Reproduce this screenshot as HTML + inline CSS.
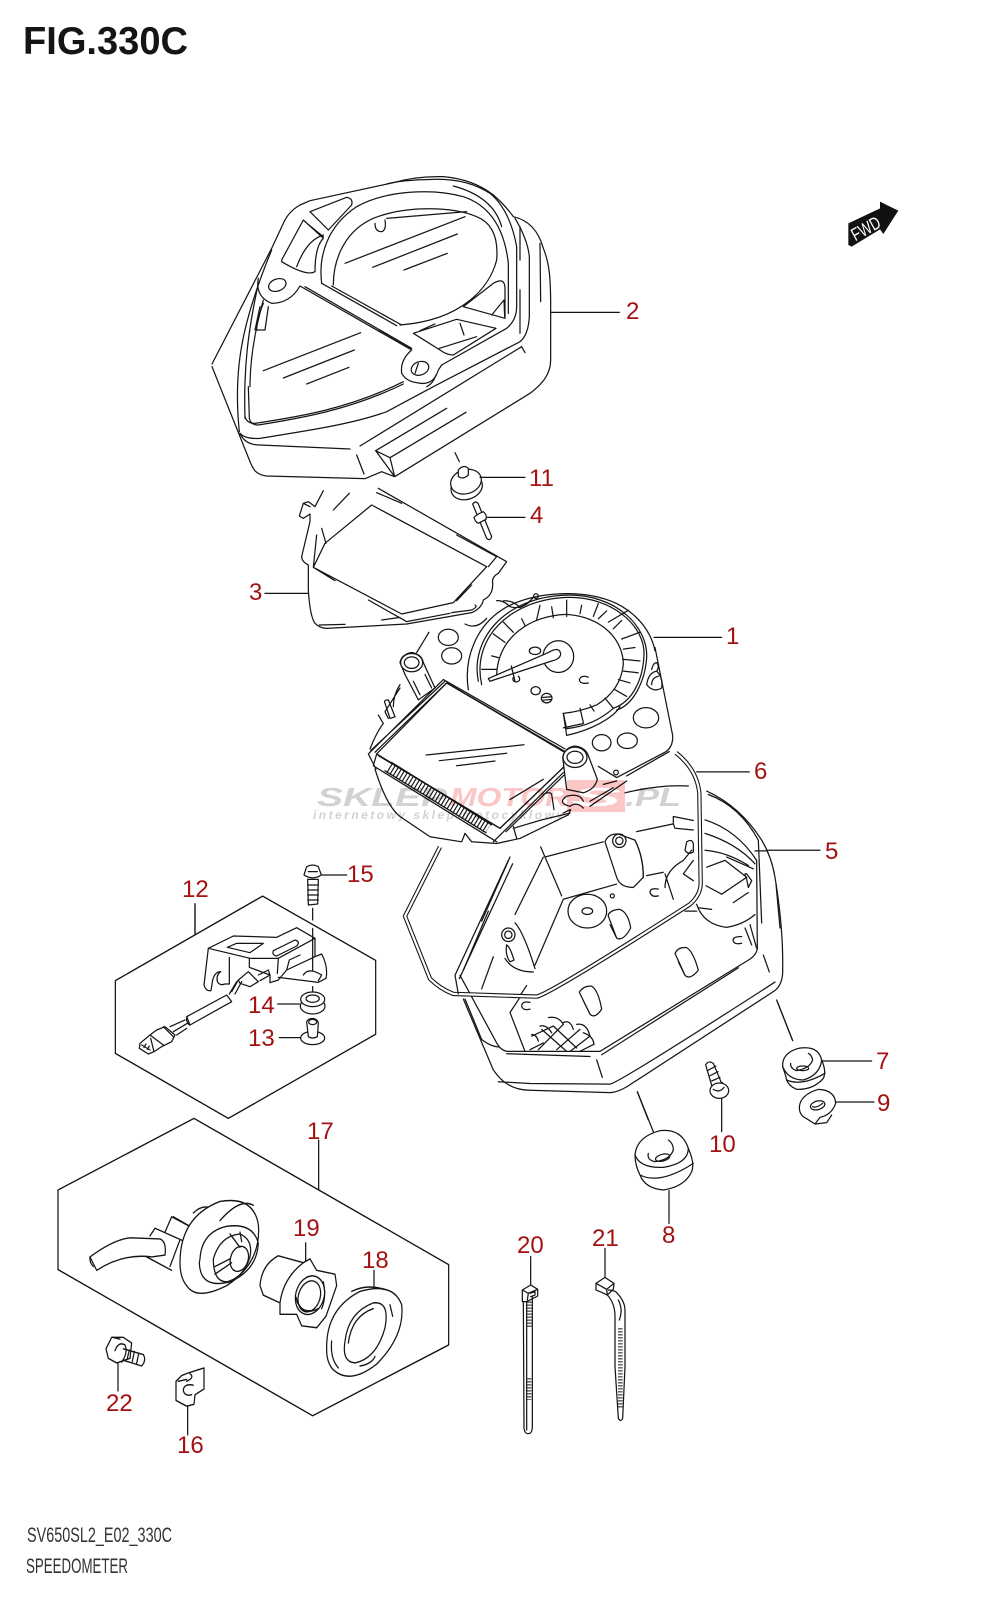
<!DOCTYPE html>
<html><head><meta charset="utf-8"><style>
html,body{margin:0;padding:0;background:#fff}
svg{display:block}
text{font-family:"Liberation Sans",sans-serif}
.n{fill:#a31212;font-size:24px}
.l{fill:none;stroke:#151515;stroke-width:3.7;stroke-linecap:round;stroke-linejoin:round}
.w{fill:#fff}
</style></head><body>
<svg width="1000" height="1600" viewBox="0 0 1000 1600" xmlns="http://www.w3.org/2000/svg">
<rect width="1000" height="1600" fill="#fff"/>
<text x="23" y="54" font-size="39" font-weight="700" fill="#151515" textLength="165" lengthAdjust="spacingAndGlyphs">FIG.330C</text>
<text x="27" y="1542" font-size="21" fill="#333" textLength="145" lengthAdjust="spacingAndGlyphs">SV650SL2_E02_330C</text>
<text x="26" y="1573" font-size="21" fill="#333" textLength="102" lengthAdjust="spacingAndGlyphs">SPEEDOMETER</text>

<!-- GROUP A: housing top, part 3, 11, 4 -->
<g transform="translate(200,160) scale(.33333)" class="l">
<path d="M36 612L215 265L250 190Q265 155 300 135L330 122L580 68Q650 48 730 50Q820 58 880 105Q915 135 940 170C985 180 1015 210 1030 265C1048 310 1052 350 1052 440L1052 600C1052 640 1030 670 990 700L584 950L527 872L570 893L584 950L545 935L495 956L200 948C170 945 160 930 150 905L36 620"/>
<path d="M527 872L740 745M570 893L798 757M480 858L965 560L975 578M470 885L492 942M120 820Q135 855 180 855L450 867"/>
<path d="M118 815C100 640 120 500 215 270M120 820Q135 838 180 835C300 815 450 795 560 755L700 680L960 545Q985 525 988 470L988 290C985 260 975 225 945 175"/>
<path d="M145 680L148 775Q152 795 175 795C300 775 450 750 610 672M135 775C130 620 145 510 175 370M150 680C150 600 165 510 190 420"/>
<path d="M135 770Q140 790 165 790C300 770 450 745 610 665"/>
<path d="M175 355Q165 410 215 430Q270 430 300 378L635 570Q600 600 605 640Q620 665 650 668Q700 680 715 630L725 615L920 505Q950 480 950 440L950 260Q930 150 870 100Q800 55 700 58Q600 60 560 72"/>
<path d="M538 510L632 565M315 380L635 565"/>
<ellipse cx="232" cy="375" rx="27" ry="18" transform="rotate(-20 232 375)"/>
<ellipse cx="660" cy="625" rx="27" ry="20" transform="rotate(-20 660 625)"/>
<path d="M645 640L655 610M680 680Q700 670 708 645"/>
<path d="M365 370C355 290 380 200 470 140C560 90 700 85 790 110C880 140 915 220 925 310L925 460"/>
<path d="M400 375C400 290 440 210 520 175C620 135 760 140 830 170C880 190 895 240 890 300C870 380 790 480 600 495"/>
<path d="M365 370L590 497M395 378L605 495M760 78Q880 110 905 200M960 200L960 300M1020 250L1022 425M960 390L960 520"/>
<path d="M525 190Q525 215 545 215Q560 210 555 180M560 175L800 155"/>
<path d="M330 155L440 112Q460 115 455 135L385 210ZM245 300L310 180L370 235Q345 260 345 335Q320 350 245 305ZM290 320Q320 240 370 225M315 185L370 230"/>
<path d="M790 440L880 370Q915 350 915 385L915 475ZM875 465L912 420L914 470"/>
<path d="M640 520L770 478L888 505L760 585Q740 585 720 570ZM780 490L792 525M718 565L830 530M660 512L705 492"/>
<path d="M190 430Q170 480 170 510L195 510L205 440M180 440L165 510"/>
<path d="M435 310L795 170M518 322L772 222M612 330L742 280M190 632L482 518M250 654L463 570M320 672L447 622"/>
<path d="M1052 457L1258 457M195 1300L325 1300"/>
<path d="M765 878L778 905"/>
<ellipse class="w" cx="800" cy="982" rx="48" ry="36" transform="rotate(-18 800 982)"/>
<ellipse class="w" cx="798" cy="965" rx="47" ry="36" transform="rotate(-18 798 965)"/>
<path class="w" d="M775 950L775 930Q790 912 805 925L805 945Q790 960 775 950Z"/>
<path d="M840 952L975 952"/>
<path class="w" d="M818 1032Q828 1020 835 1032L875 1130Q870 1145 860 1135Z"/>
<path class="w" d="M822 1072Q835 1060 850 1055Q862 1065 858 1078L835 1090Q825 1085 822 1072Z"/>
<path d="M860 1072L975 1072"/>
<path d="M370 992L345 1040L325 1025L310 1030L298 1068L310 1075L330 1062L330 1085L305 1190Q305 1205 325 1215L325 1290Q330 1370 345 1390Q360 1405 380 1405L620 1392L815 1358Q845 1345 850 1320Q880 1305 878 1270Q875 1250 895 1240L920 1205L535 985"/>
<path d="M515 1035L860 1220L760 1328L605 1362L340 1222L375 1150ZM350 1125L340 1222M365 1105L378 1150M400 1050L448 1000M530 998L605 1030M770 1125L890 1190L865 1220M340 1222L405 1262M505 1320L620 1385L750 1360M545 1380L600 1372M358 1395L435 1393M770 1322L815 1275M310 1030L330 1040M755 1358L815 1350Q835 1340 825 1335"/>
<path d="M795 1392Q830 1410 860 1375M890 1322Q910 1320 930 1340Q960 1350 990 1325"/>
</g>

<!-- GROUP B: part 1, lcd, 6, 5 -->
<g transform="translate(350,590) scale(.33333,.338)" class="l">
<path d="M355 295C340 200 380 100 470 50C560 5 700 -5 800 40C870 75 905 130 915 180"/>
<path d="M915 170L968 430Q970 465 945 480L800 555L745 522"/>
<path d="M958 478L830 550M912 140L1115 140"/>
<circle cx="558" cy="18" r="7"/><path d="M460 32Q490 30 510 52Q535 40 552 20"/>
<path d="M395 280C365 150 470 30 650 22C790 18 885 110 882 190C880 260 850 330 790 350C750 385 700 405 650 410"/>
<path d="M385 270C360 150 460 20 650 15C800 12 895 110 890 200C885 270 850 340 800 355"/>
<path d="M440 250C445 140 540 75 650 72C760 80 820 150 820 220C815 270 790 310 740 340Q690 360 640 365L650 430C720 415 790 380 810 345"/>
<path d="M640 408L700 395" />
<path d="M640 365L650 410M690 350L700 392M720 340L732 358M765 320L790 350M795 295L830 315M805 265L840 275M820 240L865 245M818 205L870 210M820 175L855 170M815 145L870 125M790 115L815 90M775 95L835 60M745 85L770 62M730 78L745 40M690 70L695 45M650 78L650 30M610 82L605 50M560 88L570 45M525 105L515 85M490 125L460 95M465 155L430 130M445 200L425 195M440 235L395 235"/>
<ellipse cx="625" cy="197" rx="46" ry="47"/>
<path class="w" d="M415 262L595 185Q630 165 632 190Q630 205 605 210L420 270Z"/>
<path d="M484 225L495 270M490 258Q485 272 500 272Q515 268 505 255"/>
<ellipse cx="555" cy="180" rx="17" ry="11"/><path d="M715 258Q695 250 688 265Q690 280 715 275"/>
<ellipse cx="557" cy="298" rx="14" ry="12"/><ellipse cx="590" cy="320" rx="16" ry="14"/><path d="M578 318L602 316M578 326L602 324"/>
<ellipse cx="295" cy="140" rx="30" ry="24"/><ellipse cx="305" cy="195" rx="30" ry="24"/><ellipse cx="888" cy="378" rx="38" ry="30"/><ellipse cx="755" cy="452" rx="28" ry="24"/><ellipse cx="832" cy="446" rx="30" ry="23"/>
<path d="M237 125L200 185M890 280Q895 245 920 240Q940 260 935 290Q910 305 890 280ZM905 280Q905 260 925 255M905 235Q910 215 920 215Q930 225 920 240"/>
<circle cx="798" cy="540" r="7"/>
<!-- LCD frame -->
<path class="w" d="M290 275L645 478L640 525L450 705L80 485Z"/>
<path d="M280 265L645 470M290 275L640 478"/>
<path d="M55 485L280 265M75 480L290 275M62 475L285 270M85 490L450 705M55 485L78 530M80 485L70 520L440 745"/>
<path d="M450 705L640 525M468 715L650 540M430 745L640 540"/>
<path d="M228 488L522 458M268 505L470 483M320 520L435 506"/>
<path d="M118 525L415 705" stroke-width="34" stroke-dasharray="3.5 7" stroke-linecap="butt"/>
<path d="M125 510L425 695M105 535L408 718"/>
<path d="M75 530Q110 640 150 670L240 730L335 745L345 720L365 745L440 750M440 750L510 735L655 665L662 650"/>
<path d="M60 470Q80 420 100 395L85 370M150 280Q130 310 130 345M150 290L105 360L115 380M105 335Q100 325 115 325L135 375L120 380Z"/>
<path class="w" d="M150 215Q155 190 185 185Q215 190 220 215L255 290L205 325L165 250Z"/>
<ellipse cx="185" cy="215" rx="33" ry="27" class="w"/><ellipse cx="185" cy="215" rx="22" ry="17"/>
<path d="M190 270L210 310M225 250L245 290"/>
<path class="w" d="M638 495Q645 465 675 462Q705 465 715 490L742 560Q735 590 700 600L650 590Z"/>
<ellipse cx="675" cy="495" rx="36" ry="30"/><ellipse cx="675" cy="495" rx="24" ry="18"/>
<path d="M480 620L580 560M490 705L575 680L660 660M580 605Q600 595 605 605L612 650M700 625Q690 600 650 610Q620 630 660 640Q680 625 700 645M490 700L500 735M660 650L640 660M720 640L830 565M760 575L800 565M720 625L790 585"/>
<!-- part 5 interior -->
<path d="M1070 595Q1170 640 1235 740Q1265 790 1275 850Q1300 1000 1298 1120Q1300 1165 1275 1185L830 1470Q800 1487 780 1487L540 1480Q470 1480 430 1420L340 1210"/>
<path d="M1075 605Q1170 640 1225 740L1235 985M1278 870L1290 1000M1240 1080L1258 1130"/>
<path d="M1065 680Q1160 710 1220 800L1222 1060Q1220 1080 1195 1095L750 1365L470 1365Q450 1360 440 1340L330 1140M1065 720Q1160 750 1215 810M1065 770Q1130 775 1195 815M345 1210L395 1330Q420 1350 445 1352M470 1372L720 1380M755 1375L1165 1118M740 1390L757 1442M445 1455L540 1460L780 1462Q800 1462 1275 1160"/>
<path d="M825 600Q930 575 1015 580M480 790L395 980M415 950L340 1125M572 760L635 905M585 790L760 745M580 790L495 960M640 915L800 870M640 915L555 1110M860 715L970 692L970 670L1030 682M970 692L975 705L1030 710M890 845L940 835"/>
<path class="w" d="M765 745Q775 720 805 722L855 740Q880 790 880 850L850 880Q810 880 800 850Z"/>
<circle cx="808" cy="742" r="20"/><circle cx="808" cy="742" r="11"/><path d="M855 740Q880 790 880 850"/>
<path d="M945 840L970 915M1000 800Q945 830 945 880M1025 770L1000 800M1010 745Q1025 735 1030 750L1030 775Q1015 785 1005 770Z"/>
<path d="M1030 800L1000 840L1030 860M1070 820L1125 800L1190 850L1115 900L1068 875M1130 790L1210 825M1190 855Q1180 835 1190 840L1205 860L1195 880ZM1150 925L1195 895"/>
<path d="M1040 930Q1060 990 1130 998Q1180 990 1215 960M1045 940L1085 945M1005 950L1040 950M1200 990L1220 1060M1185 1000L1205 1050"/>
<path d="M925 885Q900 880 900 895Q905 910 925 905M1175 1025Q1145 1025 1150 1040Q1155 1050 1175 1045M540 1220Q515 1215 515 1232Q520 1245 540 1240"/>
<ellipse cx="712" cy="950" rx="58" ry="50"/><ellipse cx="712" cy="950" rx="16" ry="10"/><circle cx="787" cy="905" r="6"/>
<path d="M775 960Q785 945 810 945Q835 955 842 1000Q820 1040 800 1030L775 965ZM780 990L800 1030"/>
<path d="M975 1075Q985 1055 1010 1058Q1030 1070 1045 1125Q1020 1155 1005 1140L975 1075ZM985 1100L1005 1140"/>
<path d="M688 1190Q700 1170 725 1172Q745 1185 755 1240Q735 1270 720 1255L688 1190ZM700 1215L720 1255"/>
<circle cx="475" cy="1020" r="20"/><circle cx="475" cy="1020" r="11"/>
<path d="M495 985Q520 1010 555 1120M470 1050Q480 1055 492 1095L480 1100Q465 1080 470 1050ZM465 1090Q490 1130 550 1130M395 1180L430 1085M530 1170L510 1200M480 1250L525 1365M510 1205L480 1250"/>
<path d="M545 1320L610 1290L680 1355M575 1300L650 1365M640 1285L565 1360M690 1300L620 1360M720 1320L660 1365" />
<path d="M545 1315Q560 1315 565 1335M570 1290Q590 1285 605 1310M595 1265Q625 1260 640 1285M640 1280Q660 1270 670 1300M680 1285Q710 1280 720 1320M700 1310Q730 1320 732 1345M540 1360L580 1340M690 1365L730 1345"/>
<path d="M1250 770L1410 770"/>
<path d="M1215 772L1250 772M862 1485L895 1568M1282 1218L1328 1333"/>
<!-- gasket -->
<path d="M270 760L165 965L240 1150Q270 1180 310 1195L560 1203Q600 1195 1020 930Q1055 900 1052 860L1048 600Q1040 530 978 482" stroke="#151515" stroke-width="13" stroke-linecap="butt"/>
<path d="M270 760L165 965L240 1150Q270 1180 310 1195L560 1203Q600 1195 1020 930Q1055 900 1052 860L1048 600Q1040 530 978 482" stroke="#fff" stroke-width="6.5" stroke-linecap="square"/>
<path d="M1040 538L1198 538"/>
<path d="M325 1195L315 1140L475 800M328 1150L488 810"/>
</g>

<!-- GROUP C: hex boxes, part 17 group -->
<g transform="translate(40,880) scale(.33333,.38268)" class="l">
<path d="M668 42L1007 210L1007 403L565 623L226 453L226 263Z"/>
<path d="M462 623L1226 1005L1226 1215L818 1400L54 1018L54 810Z"/>
<path d="M465 62L465 140M836 680L836 810M797 948L797 995M1002 1020L1002 1062M234 1262L234 1335M443 1375L443 1450"/>
<!-- lamp -->
<path d="M150 985L170 1020Q250 975 335 985L375 980Q380 945 360 938L270 935Q220 940 150 985Z"/>
<path d="M150 985Q148 1000 160 1010M320 985L395 1020M330 930L345 910L435 945M375 920L395 880L470 915M400 880L450 905M390 1010L420 940M460 870Q490 845 520 860"/>
<path class="w" d="M420 1000Q420 880 540 840Q640 825 655 900Q665 1000 560 1060Q470 1100 440 1060Q420 1040 420 1000Z"/>
<path d="M480 990Q485 920 560 905Q640 895 655 950Q650 1020 570 1050Q480 1070 478 1000Z"/>
<path d="M520 990Q540 930 600 925Q640 940 630 985Q610 1040 560 1050Q520 1050 520 990Z"/>
<ellipse cx="598" cy="990" rx="26" ry="34" transform="rotate(25 598 990)"/>
<path d="M540 890Q600 830 640 850M570 925L600 960M600 920L605 945M525 1030L575 1000M525 1010L570 990"/>
<!-- 19 -->
<path class="w" d="M660 1060Q665 1005 715 982L790 1000L810 990L830 1020L885 1030L890 1060L858 1140L830 1170L785 1165L770 1135L720 1135L720 1105L670 1085Z"/>
<ellipse cx="810" cy="1085" rx="42" ry="52" transform="rotate(25 810 1085)"/>
<ellipse cx="808" cy="1088" rx="32" ry="42" transform="rotate(25 808 1088)"/>
<path d="M720 1105Q730 1040 790 1000M768 1090Q780 1130 810 1125M770 1100Q790 1140 835 1120M850 1050Q860 1090 845 1120"/>
<!-- 18 -->
<path class="w" d="M860 1220Q860 1120 960 1075Q1060 1050 1085 1110Q1095 1190 1010 1265Q930 1320 880 1280Q858 1260 860 1220Z"/>
<path d="M915 1205Q925 1130 1000 1105Q1050 1100 1035 1170Q1010 1250 945 1262Q905 1260 915 1205ZM925 1210Q935 1140 1000 1120M875 1205Q870 1250 895 1275M935 1075Q980 1055 1035 1070M1050 1110L1058 1140M960 1270Q995 1265 1005 1245"/>
<!-- 22 -->
<path class="w" d="M198 1225L215 1195L250 1195L275 1210L270 1250L230 1262L205 1250Z"/>
<path d="M225 1230Q235 1205 255 1215Q265 1235 245 1260M250 1225L310 1240Q320 1255 305 1270L250 1255M268 1228L262 1250M283 1232L277 1258M296 1238L290 1263M218 1195L240 1200"/>
<!-- 16 -->
<path class="w" d="M408 1310L425 1295L445 1288L492 1275L492 1330L465 1345L462 1370L440 1375L408 1360Z"/>
<path d="M450 1290Q465 1300 440 1310M460 1320Q430 1315 430 1335Q435 1350 455 1345M415 1310L440 1305"/>
</g>

<!-- GROUP D: part 12 bracket -->
<g transform="translate(130,860) scale(.33333)" class="l">
<path d="M195 135L195 222M575 45L650 45M443 432L508 432M448 533L512 533"/>
<path class="w" d="M522 45L530 20Q548 10 565 20L574 45Q548 62 522 45Z"/>
<path d="M535 35L562 35"/>
<path class="w" d="M533 58L565 58L563 132L535 135Z"/>
<path d="M533 75L565 75M533 90L565 90M533 105L565 105M533 120L565 120"/>
<path d="M548 145L548 180M548 205L548 330M548 380L548 405"/>
<path d="M235 265L310 228L440 232M440 232L500 203L555 235L445 295L360 295L235 265"/>
<path d="M235 265L222 375Q228 395 243 392L248 360Q255 335 272 335Q258 345 262 365Q270 378 285 372L298 372L298 292"/>
<path d="M292 262L320 250L400 250L360 278ZM358 295L358 322L420 345L420 368L445 360L470 330L555 290L555 235M445 295L442 340M430 272L495 240Q512 245 500 258L440 288Q425 285 430 272ZM555 290L575 282Q595 320 588 355L565 367L445 352M470 330L478 300L510 285"/>
<path d="M520 345Q535 320 575 345L565 362"/>
<path class="w" d="M325 360L355 335L385 365L360 380L330 370Z"/>
<path d="M385 345L415 330L420 345L390 362M305 395L325 360M315 402L335 365M298 402L320 365"/>
<path class="w" d="M170 470L290 405L305 425L180 495Z"/>
<path d="M172 470Q165 480 178 495M120 500L165 480M130 515L172 490M140 525L170 505"/>
<path class="w" d="M30 550L60 525L80 510L105 500L135 525L125 545L95 560L72 575L55 582L28 565Z"/>
<path d="M60 525L100 555M72 575L62 535M100 500L130 530M35 555L60 570M42 562L48 552M52 568L58 558"/>
<ellipse class="w" cx="548" cy="438" rx="37" ry="24"/>
<ellipse class="w" cx="548" cy="418" rx="36" ry="22"/>
<ellipse cx="548" cy="416" rx="20" ry="11"/>
<ellipse class="w" cx="548" cy="534" rx="36" ry="20"/>
<path class="w" d="M530 485Q535 475 550 475Q565 480 565 490L562 530Q548 538 535 530Z"/>
<ellipse cx="548" cy="486" rx="12" ry="8"/>
</g>

<!-- GROUP E: 7,8,9,10,20,21 -->
<g transform="translate(500,1000) scale(.33333)" class="l">
<path d="M830 0L878 122M412 275L470 420M507 572L507 670M665 295L665 395M962 183L1115 183M1007 306L1122 306M92 770L92 855M315 745L315 832"/>
<path class="w" d="M405 465Q410 410 480 392Q545 385 565 445Q585 490 575 515Q555 560 490 570Q435 565 420 525Q405 495 405 465Z"/>
<path d="M405 465Q420 505 490 502Q565 490 565 445M420 525Q480 555 580 490M445 460Q440 480 465 485Q510 480 520 450Q520 430 505 420"/>
<ellipse cx="488" cy="473" rx="22" ry="10" transform="rotate(-15 488 473)"/>
<path class="w" d="M848 200Q845 160 895 145Q955 135 965 180Q980 215 970 235Q940 270 890 268Q860 255 858 230Z"/>
<path d="M848 200Q865 240 910 240Q960 225 965 180M860 240Q905 260 975 220M872 190Q870 205 890 212Q930 205 938 180Q935 165 925 160"/>
<ellipse cx="908" cy="205" rx="18" ry="7"/>
<path class="w" d="M898 322Q900 285 955 268Q1005 270 1007 310Q995 345 960 352L945 372L918 355Q898 345 898 322Z"/>
<ellipse cx="953" cy="316" rx="22" ry="13" transform="rotate(-15 953 316)"/>
<path d="M938 320Q950 325 968 310M945 372L980 368L995 345"/>
<path class="w" d="M617 195Q625 180 640 190L670 262L642 280Z"/>
<path d="M622 212L648 198M628 228L654 215M635 243L660 232M640 258L668 248"/>
<ellipse cx="658" cy="272" rx="28" ry="23" class="w"/>
<path d="M640 268Q658 280 672 262"/>
<!-- tie 20 -->
<path class="w" d="M67 870L92 855L113 868L113 888L80 905L67 905Z"/>
<path d="M67 870L85 880L113 868M85 880L82 900M90 880L105 875L105 885L92 890"/>
<path d="M70 905L72 1285Q75 1305 90 1300Q97 1295 97 1280L97 890M80 905L80 1290"/>
<path d="M88 905L88 985" stroke-width="14" stroke-dasharray="3 6" stroke-linecap="butt"/>
<path d="M87 1135L87 1200" stroke-width="14" stroke-dasharray="3 6" stroke-linecap="butt"/>
<!-- tie 21 -->
<path class="w" d="M288 850L315 832L342 850L340 868L322 885L288 870Z"/>
<path d="M288 850L320 868L322 885M320 868L342 850"/>
<path d="M325 870Q345 870 352 880Q375 905 375 930L375 1100L368 1255Q362 1268 355 1255L345 1100L345 950Q345 910 322 885M355 900Q370 930 358 960"/>
<path d="M361 985L361 1225" stroke-width="14" stroke-dasharray="3 6" stroke-linecap="butt"/>
</g>

<!-- watermark over linework, multiplied so lines show through -->
<g style="mix-blend-mode:multiply">
<rect x="567" y="780" width="58" height="32" fill="#fbc6c6"/>
<text x="317" y="806" font-size="26" font-weight="700" font-style="italic" fill="#d2d2d2" textLength="130" lengthAdjust="spacingAndGlyphs">SKLEP</text>
<text x="450" y="806" font-size="26" font-weight="700" font-style="italic" fill="#fbc6c6" textLength="118" lengthAdjust="spacingAndGlyphs">MOTOR</text>
<text x="571" y="806" font-size="26" font-weight="700" font-style="italic" fill="#fff" textLength="50" lengthAdjust="spacingAndGlyphs">S</text>
<text x="625" y="806" font-size="26" font-weight="700" font-style="italic" fill="#d2d2d2" textLength="56" lengthAdjust="spacingAndGlyphs">.PL</text>
<text x="313" y="819" font-size="12" font-weight="700" font-style="italic" fill="#d2d2d2" textLength="250">internetowy sklep motocyklowy</text>
</g>

<!-- FWD -->
<g transform="translate(830,180) scale(.33333)">
<path d="M55 130L150 85L150 65L205 92L160 162L150 148L65 200L55 195Z" fill="#111"/>
<text x="76" y="184" font-size="54" fill="#fff" transform="rotate(-29 76 184)" textLength="92" lengthAdjust="spacingAndGlyphs">FWD</text>
</g>

<!-- labels -->
<text class="n" x="726" y="644">1</text>
<text class="n" x="626" y="319">2</text>
<text class="n" x="249" y="600">3</text>
<text class="n" x="530" y="523">4</text>
<text class="n" x="825" y="859">5</text>
<text class="n" x="754" y="779">6</text>
<text class="n" x="876" y="1069">7</text>
<text class="n" x="662" y="1243">8</text>
<text class="n" x="877" y="1111">9</text>
<text class="n" x="709" y="1152">10</text>
<text class="n" x="529" y="486">11</text>
<text class="n" x="182" y="897">12</text>
<text class="n" x="248" y="1046">13</text>
<text class="n" x="248" y="1013">14</text>
<text class="n" x="347" y="882">15</text>
<text class="n" x="177" y="1453">16</text>
<text class="n" x="307" y="1139">17</text>
<text class="n" x="362" y="1268">18</text>
<text class="n" x="293" y="1236">19</text>
<text class="n" x="517" y="1253">20</text>
<text class="n" x="592" y="1246">21</text>
<text class="n" x="106" y="1411">22</text>
</svg>
</body></html>
